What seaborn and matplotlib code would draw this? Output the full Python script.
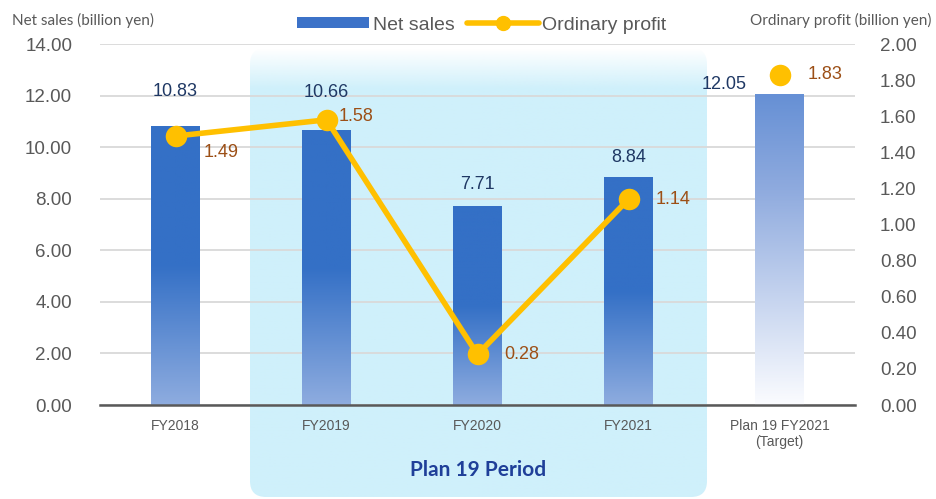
import matplotlib
matplotlib.use("Agg")
import matplotlib.pyplot as plt
import numpy as np
import seaborn as sns
from matplotlib.colors import to_rgb
from matplotlib.lines import Line2D
from matplotlib.patches import FancyBboxPatch, Patch

categories = ["FY2018", "FY2019", "FY2020", "FY2021", "Plan 19 FY2021\n(Target)"]
net_sales = [10.83, 10.66, 7.71, 8.84, 12.05]
ordinary_profit = [1.49, 1.58, 0.28, 1.14, 1.83]
left_ticks = [0, 2, 4, 6, 8, 10, 12, 14]
right_ticks = [0.0, 0.2, 0.4, 0.6, 0.8, 1.0, 1.2, 1.4, 1.6, 1.8, 2.0]

BLUE = "#3470c6"
GOLD = "#ffc000"
GRAY = "#595959"
NUM_FONT = "Liberation Sans"
LABEL_FONT = "Lato"

sns.set_theme(style="white")
plt.rcParams["font.family"] = [NUM_FONT, "DejaVu Sans"]

fig = plt.figure(figsize=(9.36, 4.99), dpi=100)

# background band for the "Plan 19 Period" (pixel coordinates, y up)
bg = fig.add_axes([0, 0, 1, 1], zorder=0)
bg.set_xlim(0, 936)
bg.set_ylim(0, 499)
bg.axis("off")
band = FancyBboxPatch((250, 2), 457, 449, boxstyle="round,pad=0,rounding_size=16",
                      facecolor="none", edgecolor="none", transform=bg.transData)
bg.add_patch(band)
ramp = np.clip(np.linspace(0, 1, 300) * 449 / 40, 0, 1)  # top fades to white
band_rgba = np.zeros((300, 1, 4))
band_rgba[..., :3] = to_rgb("#cff0fb")
band_rgba[:, 0, 3] = ramp
img = bg.imshow(band_rgba, extent=[250, 707, 2, 451], aspect="auto", origin="upper")
img.set_clip_path(band)
bg.text(478, 29, "Plan 19 Period", ha="center", va="center", fontsize=15,
        fontweight="bold", color="#1f3f99", family=[LABEL_FONT, "DejaVu Sans"])

ax = fig.add_axes([100 / 936, 94 / 499, 755 / 936, 361 / 499], zorder=1)
ax.patch.set_alpha(0)

sns.barplot(x=categories, y=net_sales, ax=ax, width=0.32, color=BLUE,
            saturation=1, errorbar=None)


def gradient(top, mid, bottom, solid_part):
    t = np.linspace(0, 1, 256)
    c_top, c_mid, c_bot = np.array(to_rgb(top)), np.array(to_rgb(mid)), np.array(to_rgb(bottom))
    out = np.empty((256, 1, 3))
    for i, v in enumerate(t):
        if v <= solid_part:
            f = v / solid_part if solid_part > 0 else 1
            out[i, 0] = c_top + (c_mid - c_top) * f
        else:
            f = (v - solid_part) / (1 - solid_part)
            out[i, 0] = c_mid + (c_bot - c_mid) * f
    return out


bars = list(ax.patches)
for i, bar in enumerate(bars):
    x0, w, h = bar.get_x(), bar.get_width(), bar.get_height()
    if i < 4:
        grad = gradient(BLUE, BLUE, "#8eacdf", 0.5)
    else:
        grad = gradient("#6690d5", "#8eaade", "#fbfcff", 0.3)
    im = ax.imshow(grad, extent=[x0, x0 + w, 0, h], aspect="auto", origin="upper", zorder=2)
    im.set_clip_path(bar)
    bar.set_facecolor("none")
    bar.set_edgecolor("none")

ax.set_xlim(-0.5, 4.5)
ax.set_ylim(0, 14)
ax.set_yticks(left_ticks)
ax.set_yticklabels([f"{v:.2f}" for v in left_ticks])
ax.yaxis.grid(True, color="#d9d9d9", linewidth=1.3)
ax.set_axisbelow(True)
for s in ["left", "right", "top"]:
    ax.spines[s].set_visible(False)
ax.spines["bottom"].set_color(GRAY)
ax.spines["bottom"].set_linewidth(1.8)
ax.spines["bottom"].set_zorder(3)
ax.tick_params(axis="y", length=0, pad=20, labelsize=13.5, labelcolor=GRAY)
ax.tick_params(axis="x", length=0, pad=10, labelsize=10, labelcolor=GRAY)
ax.set_xlabel("")

# value labels for net sales (offsets in pixels: dx, dy above bar top)
sales_offsets = [(0, 34), (0, 38), (0, 22), (0, 20), (-55, 10)]
for i, (v, (dx, dy)) in enumerate(zip(net_sales, sales_offsets)):
    ax.annotate(f"{v:.2f}", (i, v), xytext=(dx * 0.72, dy * 0.72), textcoords="offset points",
                ha="center", va="center", fontsize=13, color="#1f3864", zorder=5)

ax2 = ax.twinx()
ax2.set_zorder(2)
ax2.patch.set_alpha(0)
positions = list(range(len(categories)))
sns.lineplot(x=positions[:4], y=ordinary_profit[:4], ax=ax2, color=GOLD, linewidth=4,
             marker="o", markersize=15.5, markeredgewidth=0)
sns.scatterplot(x=positions[4:], y=ordinary_profit[4:], ax=ax2, color=GOLD, s=240,
                linewidth=0)
ax2.set_ylim(0, 2)
ax2.set_yticks(right_ticks)
ax2.set_yticklabels([f"{v:.2f}" for v in right_ticks])
ax2.grid(False)
for s in ax2.spines.values():
    s.set_visible(False)
ax2.tick_params(axis="y", length=0, pad=18, labelsize=13.5, labelcolor=GRAY)

profit_offsets = [(28, -16), (12, 3), (27, 0), (27, 0), (28, 0)]
for i, (v, (dx, dy)) in enumerate(zip(ordinary_profit, profit_offsets)):
    ax2.annotate(f"{v:.2f}", (i, v), xytext=(dx * 0.72, dy * 0.72), textcoords="offset points",
                 ha="left", va="center", fontsize=13, color="#9c4f16", zorder=5)

fig.text(12 / 936, 1 - 20 / 499, "Net sales (billion yen)", ha="left", va="center",
         fontsize=11, color=GRAY, family=[LABEL_FONT, "DejaVu Sans"])
fig.text(932 / 936, 1 - 20 / 499, "Ordinary profit (billion yen)", ha="right", va="center",
         fontsize=11, color=GRAY, family=[LABEL_FONT, "DejaVu Sans"])

handles = [Patch(facecolor="#3c72c8", edgecolor="none"),
           Line2D([0], [0], color=GOLD, linewidth=4, marker="o", markersize=10)]
fig.legend(handles, ["Net sales", "Ordinary profit"], loc="center", ncol=2,
           bbox_to_anchor=(482 / 936, 1 - 25 / 499), frameon=False, fontsize=14,
           handlelength=3.7, handleheight=0.5, columnspacing=0.6, handletextpad=0.2,
           labelcolor=GRAY)

fig.savefig("out.png", dpi=100)
